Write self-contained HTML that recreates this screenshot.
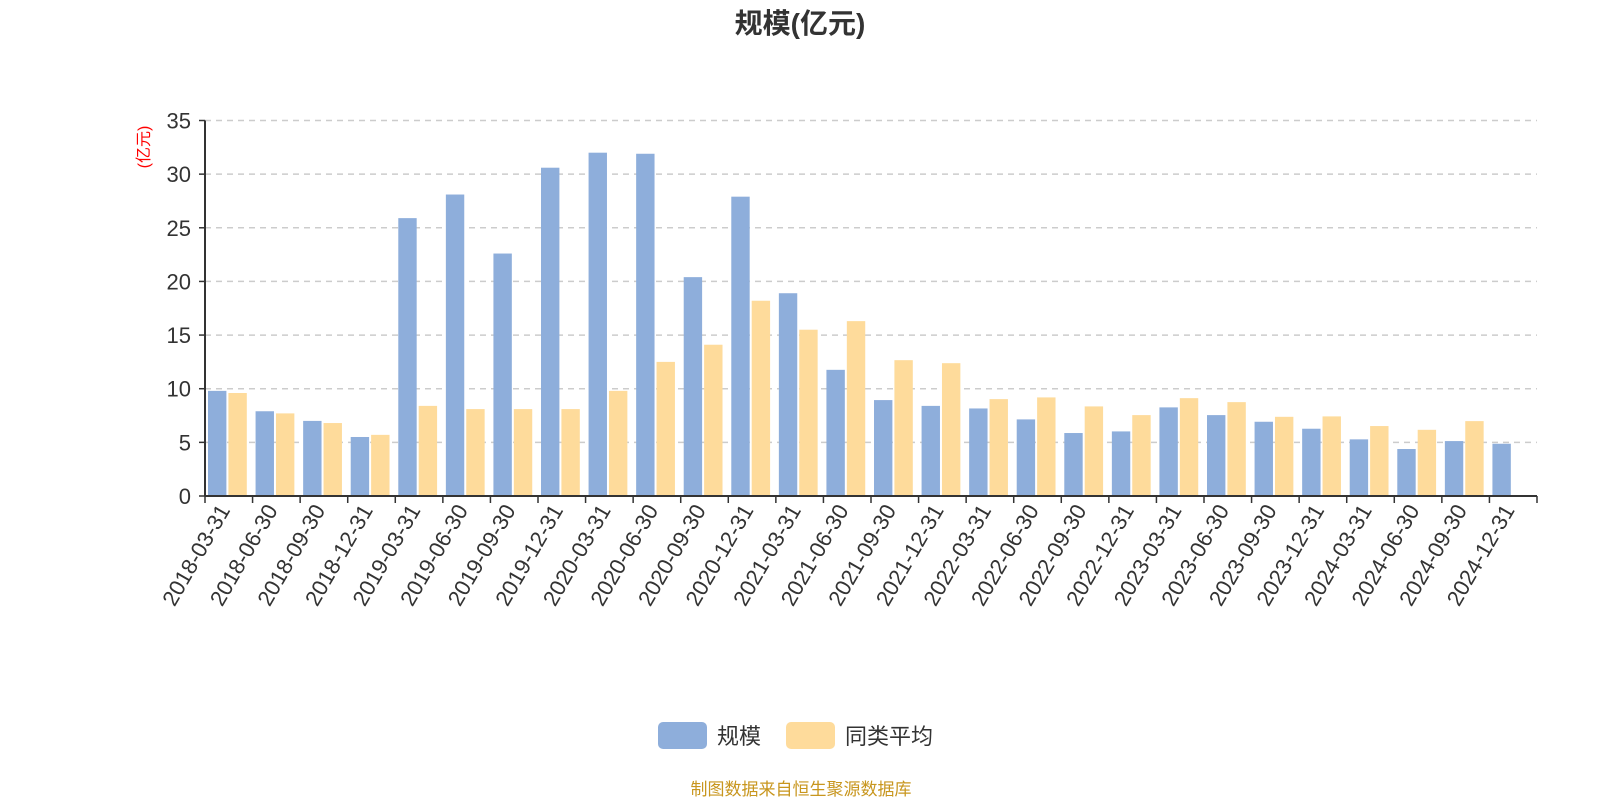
<!DOCTYPE html>
<html><head><meta charset="utf-8"><style>
body{margin:0;background:#fff;}
svg{display:block;font-family:"Liberation Sans","Noto Sans CJK SC",sans-serif;}
</style></head><body>
<svg id="c" width="1600" height="800">
<text x="800" y="33" text-anchor="middle" font-size="28" font-weight="bold" fill="#333">规模(亿元)</text>
<text transform="translate(149,147) rotate(-90)" text-anchor="middle" font-size="16" fill="#f00">(亿元)</text>
<g id="grid"></g><g id="bars"></g><g id="axes"></g>
<g>
<rect x="658" y="722" width="49" height="27" rx="5" fill="#8eaedb"/>
<text x="717" y="744" font-size="22" fill="#333">规模</text>
<rect x="786" y="722" width="49" height="27" rx="5" fill="#fedb9b"/>
<text x="845" y="744" font-size="22" fill="#333">同类平均</text>
</g>
<text x="801" y="795" text-anchor="middle" font-size="17" fill="#c8961e">制图数据来自恒生聚源数据库</text>
</svg>
<script>
const categories=["2018-03-31","2018-06-30","2018-09-30","2018-12-31","2019-03-31","2019-06-30","2019-09-30","2019-12-31","2020-03-31","2020-06-30","2020-09-30","2020-12-31","2021-03-31","2021-06-30","2021-09-30","2021-12-31","2022-03-31","2022-06-30","2022-09-30","2022-12-31","2023-03-31","2023-06-30","2023-09-30","2023-12-31","2024-03-31","2024-06-30","2024-09-30","2024-12-31"];
const scaleValues=[9.8,7.9,7.0,5.5,25.9,28.1,22.6,30.6,32.0,31.9,20.4,27.9,18.9,11.76,8.94,8.4,8.16,7.14,5.87,6.02,8.26,7.54,6.92,6.27,5.28,4.38,5.12,4.87];
const avgValues=[9.6,7.7,6.8,5.7,8.4,8.1,8.1,8.1,9.8,12.5,14.1,18.2,15.5,16.3,12.66,12.38,9.03,9.19,8.35,7.54,9.12,8.75,7.38,7.42,6.52,6.17,6.98,null];
const yTicks=[0,5,10,15,20,25,30,35];
</script>
<script>
const NS="http://www.w3.org/2000/svg";
const L=205,R=1537,T=120.5,B=496,YMAX=35;
const n=categories.length;
const band=(R-L)/n;
function y(v){return B-(v/YMAX)*(B-T);}
function xb(i){return L+i*band;}
function mk(tag,attrs,parent){const e=document.createElementNS(NS,tag);for(const k in attrs)e.setAttribute(k,attrs[k]);parent.appendChild(e);return e;}
const grid=document.getElementById('grid'),bars=document.getElementById('bars'),axes=document.getElementById('axes');
yTicks.forEach(t=>{
  if(t>0){const g=mk('line',{x1:L,x2:R,y1:y(t),y2:y(t),stroke:'#ccc','stroke-width':1.5,'stroke-dasharray':'6,5'},grid);
  
  }
  const tk=mk('line',{x1:L-6,x2:L,y1:y(t),y2:y(t),stroke:'#333','stroke-width':1.5},axes);
  
  
  const tx=mk('text',{x:L-14,y:y(t)+8,'text-anchor':'end','font-size':22,fill:'#333'},axes);
  tx.textContent=t;
  
  
});
const bw=18.4;
categories.forEach((c,i)=>{
  const v1=scaleValues[i];
  if(v1!=null){const r=mk('rect',{x:xb(i)+3,y:y(v1),width:bw,height:B-y(v1),fill:'#8eaedb'},bars);
  
  }
  const v2=avgValues[i];
  if(v2!=null){const r=mk('rect',{x:xb(i)+3+bw+2,y:y(v2),width:bw,height:B-y(v2),fill:'#fedb9b'},bars);
  
  }
  const tk=mk('line',{x1:xb(i),x2:xb(i),y1:B,y2:B+7,stroke:'#333','stroke-width':1.5},axes);
  
  
  const cx=xb(i)+band/2;
  const tx=mk('text',{transform:`translate(${cx+2},${B+14}) rotate(-60)`,'text-anchor':'end','font-size':22,fill:'#333'},axes);
  tx.textContent=c;
  
  
});
const te=mk('line',{x1:R,x2:R,y1:B,y2:B+7,stroke:'#333','stroke-width':1.5},axes);


const xa=mk('line',{x1:L,x2:R,y1:B,y2:B,stroke:'#333','stroke-width':2},axes);


const ya=mk('line',{x1:L,x2:L,y1:T,y2:B,stroke:'#333','stroke-width':2},axes);


</script>
</body></html>
